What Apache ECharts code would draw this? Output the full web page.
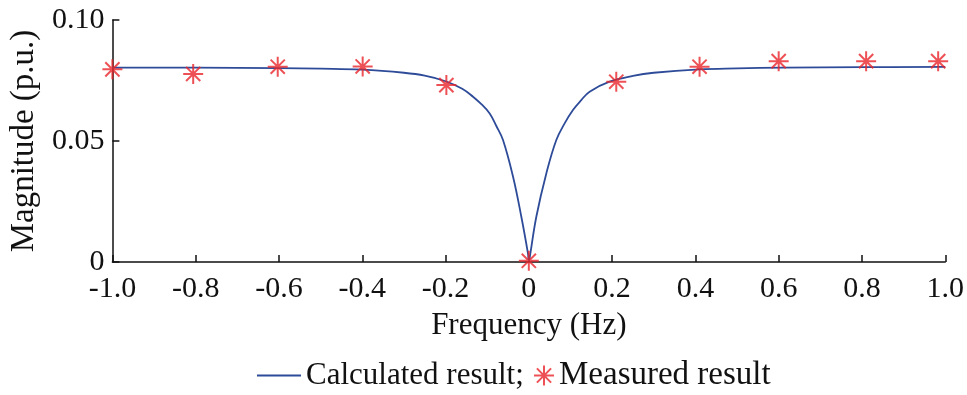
<!DOCTYPE html>
<html>
<head>
<meta charset="utf-8">
<script src="https://cdn.jsdelivr.net/npm/echarts@6/dist/echarts.min.js"></script>
<style>html,body{margin:0;padding:0;background:#fff;}#c{width:967px;height:395px;}</style>
</head>
<body>
<div id="c"></div>
<script>
// Calculated curve
const curveFreq = [-1.0, -0.8, -0.6, -0.5, -0.4, -0.3, -0.25, -0.2, -0.16, -0.134, -0.114, -0.094, -0.078, -0.062, -0.038, -0.018, -0.002, 0, 0.002, 0.018, 0.042, 0.066, 0.086, 0.106, 0.126, 0.146, 0.194, 0.25, 0.3, 0.41, 0.5, 0.61, 0.8, 1.0];
const curveMag  = [0.0803, 0.0803, 0.0801, 0.0799, 0.0795, 0.0782, 0.0770, 0.0747, 0.0716, 0.0683, 0.0652, 0.0614, 0.0562, 0.0504, 0.0353, 0.0187, 0.0035, 0.0005, 0.0017, 0.0187, 0.0366, 0.0504, 0.0573, 0.0628, 0.0669, 0.0704, 0.0745, 0.0769, 0.0782, 0.0796, 0.0800, 0.0803, 0.0805, 0.0806];
// Measured points
const measFreq = [-1.0, -0.806, -0.603, -0.399, -0.198, 0.0, 0.21, 0.41, 0.6, 0.81, 0.983];
const measMag  = [0.0796, 0.0777, 0.0807, 0.0808, 0.0731, 0.0005, 0.0745, 0.0807, 0.0830, 0.0830, 0.0830];
const xTicks = [-1.0, -0.8, -0.6, -0.4, -0.2, 0, 0.2, 0.4, 0.6, 0.8, 1.0];
const yTicks = [0, 0.05, 0.10];
const seriesNames = ['Calculated result;', 'Measured result'];

const FONT = 'Liberation Serif';
const BLUE = '#2d4b98', RED = '#e8262b', INK = '#111';
const chart = echarts.init(document.getElementById('c'), null, {renderer: 'canvas'});
const star = 'path://M0,10 L20,10 M10,0 L10,20 M2.9,2.9 L17.1,17.1 M17.1,2.9 L2.9,17.1';
chart.setOption({
  animation: false,
  backgroundColor: '#fff',
  grid: {left: 109, right: 21, top: 20, bottom: 133},
  xAxis: {
    type: 'value', min: -1.0, max: 1.0, interval: 0.2,
    name: 'Frequency (Hz)', nameLocation: 'middle', nameGap: 48,
    nameTextStyle: {fontFamily: FONT, fontSize: 31, color: INK},
    axisLine: {show: true, onZero: false, lineStyle: {color: INK, width: 1.5}},
    axisTick: {show: true, inside: true, length: 7, lineStyle: {color: INK, width: 1.5}},
    axisLabel: {fontFamily: FONT, fontSize: 30, color: INK, margin: 12,
      formatter: v => (Math.abs(v) < 1e-9 ? '0' : v.toFixed(1))},
    splitLine: {show: false}
  },
  yAxis: {
    type: 'value', min: 0, max: 0.10, interval: 0.05,
    name: 'Magnitude (p.u.)', nameLocation: 'middle', nameGap: 71, nameRotate: 90,
    nameTextStyle: {fontFamily: FONT, fontSize: 33, color: INK},
    axisLine: {show: true, onZero: false, lineStyle: {color: INK, width: 1.5}},
    axisTick: {show: true, inside: true, length: 7, lineStyle: {color: INK, width: 1.5}},
    axisLabel: {fontFamily: FONT, fontSize: 30, color: INK, margin: 8,
      formatter: v => (v === 0 ? '0' : v.toFixed(2))},
    splitLine: {show: false}
  },
  legend: [
    {
      left: 252, top: 355, itemWidth: 44, itemHeight: 2,
      textStyle: {fontFamily: FONT, fontSize: 31, color: INK},
      data: [{name: seriesNames[0], icon: 'rect', itemStyle: {color: BLUE, borderWidth: 0}}]
    },
    {
      left: 528, top: 354, itemWidth: 20, itemHeight: 20,
      textStyle: {fontFamily: FONT, fontSize: 33, color: INK},
      data: [seriesNames[1]]
    }
  ],
  series: [
    {
      name: seriesNames[0], type: 'line', symbol: 'none', smooth: 0.4,
      lineStyle: {color: BLUE, width: 1.8}, itemStyle: {color: BLUE},
      data: curveFreq.map((f, i) => [f, curveMag[i]]), z: 2
    },
    {
      name: seriesNames[1], type: 'scatter', symbol: star, symbolSize: 20,
      itemStyle: {color: 'rgba(0,0,0,0)', borderColor: RED, borderWidth: 2},
      data: measFreq.map((f, i) => [f, measMag[i]]), z: 3
    }
  ]
});
</script>
</body>
</html>
